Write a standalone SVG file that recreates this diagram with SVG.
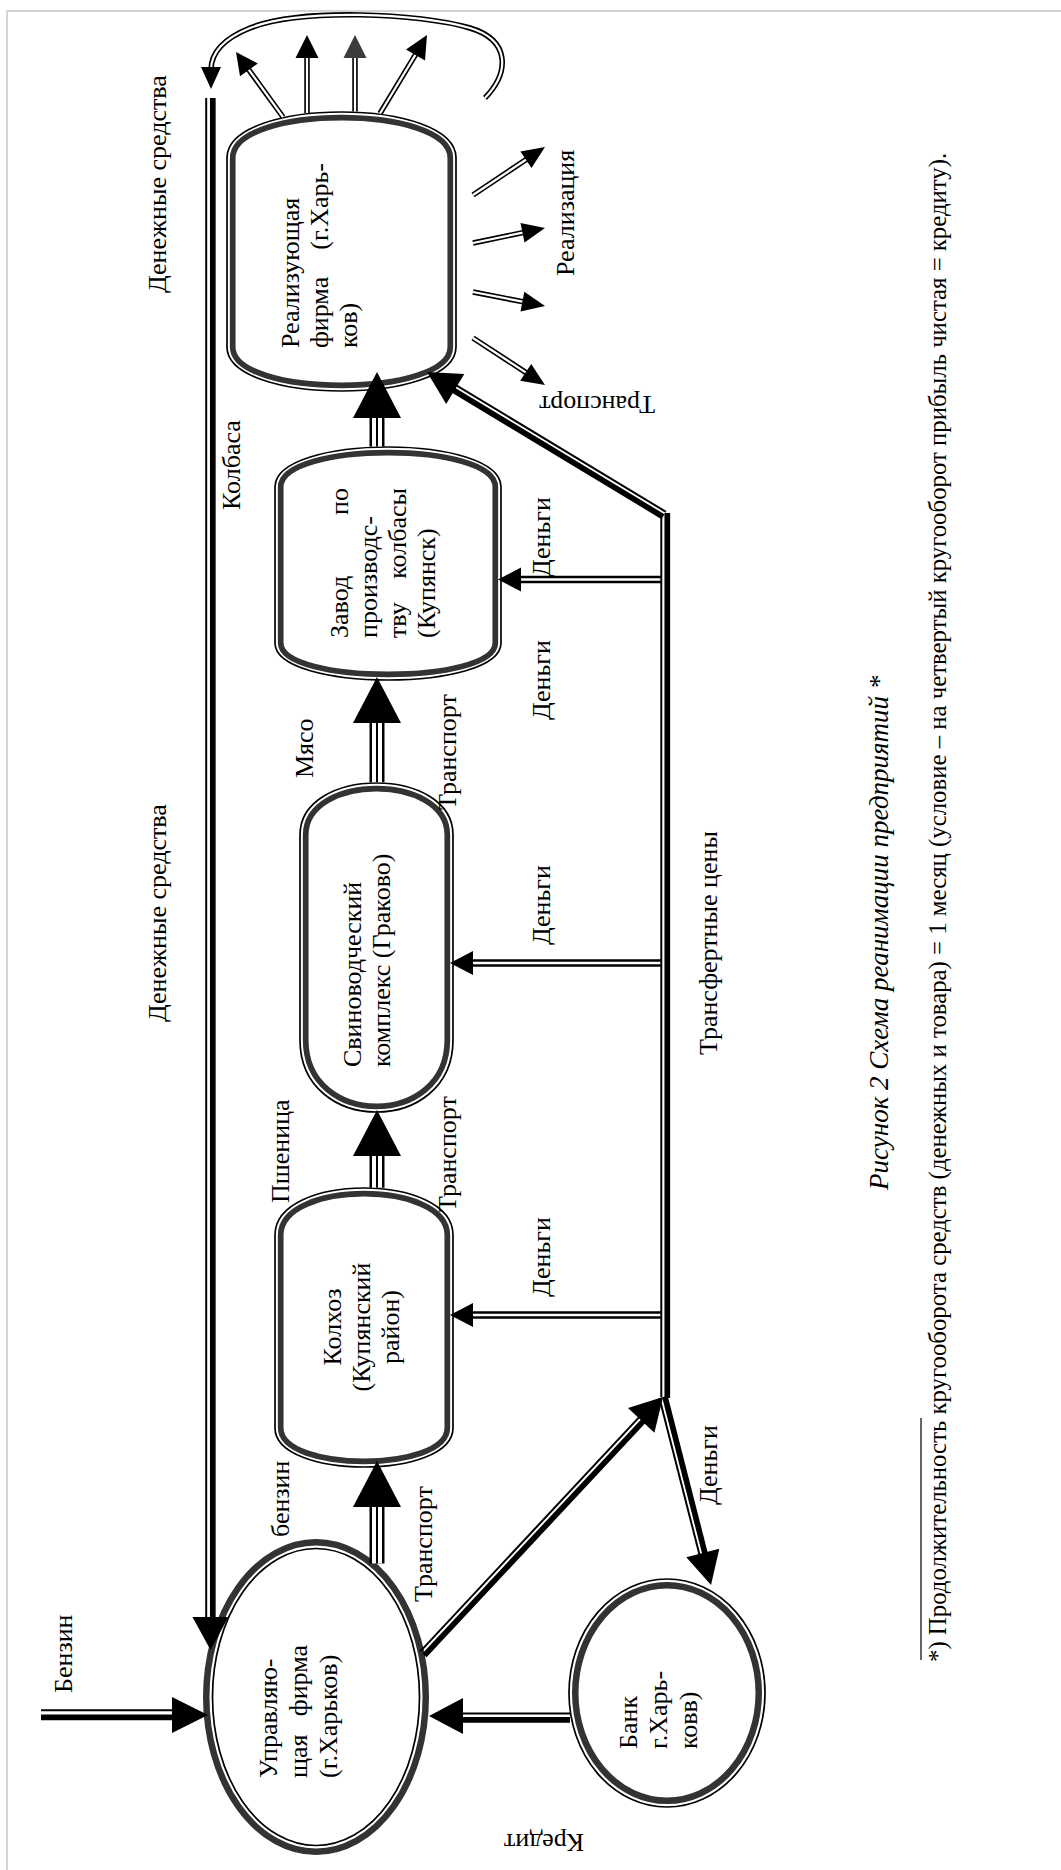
<svg xmlns="http://www.w3.org/2000/svg" width="1061" height="1870" viewBox="0 0 1061 1870">
<style>
.t{font-family:'Liberation Serif','Times New Roman',Times,serif;font-size:26px;fill:#000}
.it{font-style:italic;font-size:27px}
.fn{font-size:24.8px}
.thin{fill:none;stroke:#000;stroke-width:1.7}
.band{fill:none;stroke:#333;stroke-width:5.7}
.bg{fill:#fff;stroke:none}
.sO{fill:none;stroke:#000;stroke-width:5.5}
.sI{fill:none;stroke:#fff;stroke-width:2.2}
.dO{fill:none;stroke:#000;stroke-width:7.5}
.dI{fill:none;stroke:#fff;stroke-width:2.5}
.tO{fill:none;stroke:#000;stroke-width:15}
.tI{fill:none;stroke:#fff;stroke-width:10}
.tC{fill:none;stroke:#000;stroke-width:2}
.ln1{fill:none;stroke:#000;stroke-width:2}
.ln2{fill:none;stroke:#000;stroke-width:5.7}
.head{fill:#000;stroke:none}
.headg{fill:#3c3c3c;stroke:none}
</style>
<defs>
<path id="ta1" d="M283,117 L246.5,66.6"/>
<path id="ta2" d="M307,113 L307,55"/>
<path id="ta3" d="M355,111.5 L355,55"/>
<path id="ta4" d="M380,113.5 L417.5,51.4"/>
<path id="tcurve" d="M485,98 C510,72 510,40 470,28 C420,13 300,8 250,28 C225,38 211,52 211,70"/>
<path id="r1" d="M473,195 L529.2,157.5"/>
<path id="r2" d="M473,243 L526.4,231.9"/>
<path id="r3" d="M473,292 L526.3,302.4"/>
<path id="r4" d="M473,338 L529.1,374.6"/>
<path id="m1" d="M662,579.5 L517,579.5"/>
<path id="m2" d="M662,963 L469,963"/>
<path id="m3" d="M662,1315 L469,1315"/>
<path id="u1" d="M377,1563.5 L377,1503"/>
<path id="u2" d="M377,1187.7 L377,1152"/>
<path id="u3" d="M377,782.2 L377,719"/>
<path id="u4" d="M377,446.5 L377,414"/>
</defs>

<rect x="7" y="11" width="1070" height="1880" fill="none" stroke="#c8c8c8" stroke-width="1.5"/>

<g id="n-realiz">
<path class="bg" d="M227,158 C227,96.67 456,96.67 456,158 L456,347 C456,405.67 227,405.67 227,347 Z"/>
<path class="thin" d="M227,158 C227,96.67 456,96.67 456,158 L456,347 C456,405.67 227,405.67 227,347 Z"/>
<path class="band" d="M232.7,158 C232.7,104.27 450.3,104.27 450.3,158 L450.3,347 C450.3,398.07 232.7,398.07 232.7,347 Z"/>
<text class="t" transform="translate(299,348) rotate(-90)">Реализующая</text>
<text class="t" transform="translate(328,348) rotate(-90)">фирма</text>
<text class="t" text-anchor="end" transform="translate(328,163) rotate(-90)">(г.Харь-</text>
<text class="t" transform="translate(357,348) rotate(-90)">ков)</text>
</g>

<g id="n-zavod">
<path class="bg" d="M275,487 C275,433.67 501,433.67 501,487 L501,643 C501,692.33 275,692.33 275,643 Z"/>
<path class="thin" d="M275,487 C275,433.67 501,433.67 501,487 L501,643 C501,692.33 275,692.33 275,643 Z"/>
<path class="band" d="M280.7,487 C280.7,441.27 495.3,441.27 495.3,487 L495.3,643 C495.3,684.73 280.7,684.73 280.7,643 Z"/>
<text class="t" transform="translate(348,638) rotate(-90)">Завод</text>
<text class="t" text-anchor="end" transform="translate(348,488) rotate(-90)">по</text>
<text class="t" transform="translate(377,638) rotate(-90)">производс-</text>
<text class="t" transform="translate(406,638) rotate(-90)">тву</text>
<text class="t" text-anchor="end" transform="translate(406,488) rotate(-90)">колбасы</text>
<text class="t" transform="translate(435,638) rotate(-90)">(Купянск)</text>
</g>

<g id="n-svino">
<path class="bg" d="M300,835 C300,765.67 453,765.67 453,835 L453,1040 C453,1136 300,1136 300,1040 Z"/>
<path class="thin" d="M300,835 C300,765.67 453,765.67 453,835 L453,1040 C453,1136 300,1136 300,1040 Z"/>
<path class="band" d="M305.7,835 C305.7,773.27 447.3,773.27 447.3,835 L447.3,1040 C447.3,1128.4 305.7,1128.4 305.7,1040 Z"/>
<text class="t" transform="translate(361,1067) rotate(-90)">Свиноводческий</text>
<text class="t" transform="translate(390,1067) rotate(-90)">комплекс (Граково)</text>
</g>

<g id="n-kolhoz">
<path class="bg" d="M275,1235 C275,1172.33 453,1172.33 453,1235 L453,1428 C453,1480 275,1480 275,1428 Z"/>
<path class="thin" d="M275,1235 C275,1172.33 453,1172.33 453,1235 L453,1428 C453,1480 275,1480 275,1428 Z"/>
<path class="band" d="M280.7,1235 C280.7,1179.93 447.3,1179.93 447.3,1235 L447.3,1428 C447.3,1472.4 280.7,1472.4 280.7,1428 Z"/>
<text class="t" text-anchor="middle" transform="translate(341,1327) rotate(-90)">Колхоз</text>
<text class="t" text-anchor="middle" transform="translate(370,1327) rotate(-90)">(Купянский</text>
<text class="t" text-anchor="middle" transform="translate(399,1327) rotate(-90)">район)</text>
</g>

<g id="n-upr">
<ellipse class="bg" cx="316" cy="1697" rx="113" ry="158"/>
<ellipse cx="316" cy="1697" rx="109.75" ry="154.75" fill="none" stroke="#333" stroke-width="6.5"/>
<ellipse class="thin" cx="316" cy="1697" rx="103.5" ry="148.5" stroke-width="2"/>
<text class="t" transform="translate(277,1778) rotate(-90)">Управляю-</text>
<text class="t" transform="translate(307,1778) rotate(-90)">щая</text>
<text class="t" text-anchor="end" transform="translate(307,1645) rotate(-90)">фирма</text>
<text class="t" transform="translate(337,1778) rotate(-90)">(г.Харьков)</text>
</g>

<g id="n-bank">
<ellipse class="bg" cx="667" cy="1693" rx="99" ry="115"/>
<ellipse class="thin" cx="667" cy="1693" rx="98" ry="114" stroke-width="2"/>
<ellipse cx="667" cy="1693" rx="91.75" ry="107.75" fill="none" stroke="#333" stroke-width="6.5"/>
<text class="t" transform="translate(637,1749) rotate(-90)">Банк</text>
<text class="t" transform="translate(667,1749) rotate(-90)">г.Харь-</text>
<text class="t" transform="translate(697,1749) rotate(-90)">ковв)</text>
</g>

<g id="connectors">
<use href="#ta1" class="sO"/><use href="#ta1" class="sI"/>
<use href="#ta2" class="sO"/><use href="#ta2" class="sI"/>
<use href="#ta3" class="sO"/><use href="#ta3" class="sI"/>
<use href="#ta4" class="sO"/><use href="#ta4" class="sI"/>
<use href="#tcurve" class="sO"/><use href="#tcurve" class="sI"/>
<polygon class="head" points="236,52 257.8,63.4 240,76.3"/>
<polygon class="head" points="307,35 318.5,58 295.5,58"/>
<polygon class="headg" points="355,35 366.5,58 343.5,58"/>
<polygon class="head" points="427,35 425,60.4 406,49.4"/>
<polygon class="head" points="211,89 221,67 201,67"/>

<use href="#r1" class="sO"/><use href="#r1" class="sI"/>
<use href="#r2" class="sO"/><use href="#r2" class="sI"/>
<use href="#r3" class="sO"/><use href="#r3" class="sI"/>
<use href="#r4" class="sO"/><use href="#r4" class="sI"/>
<polygon class="head" points="545,147 531.5,168.1 520.4,151.5"/>
<polygon class="head" points="545,228 524.5,242.5 520.5,222.9"/>
<polygon class="head" points="545,306 520.5,311.4 524.3,291.8"/>
<polygon class="head" points="545,385 520.2,380.8 531.2,364"/>

<use href="#m1" class="dO"/><use href="#m1" class="dI"/>
<use href="#m2" class="dO"/><use href="#m2" class="dI"/>
<use href="#m3" class="dO"/><use href="#m3" class="dI"/>
<polygon class="head" points="498,579.5 521,567.5 521,591.5"/>
<polygon class="head" points="450,963 473,951 473,975"/>
<polygon class="head" points="450,1315 473,1303 473,1327"/>

<use href="#u1" class="tO"/><use href="#u1" class="tI"/><use href="#u1" class="tC"/>
<use href="#u2" class="tO"/><use href="#u2" class="tI"/><use href="#u2" class="tC"/>
<use href="#u3" class="tO"/><use href="#u3" class="tI"/><use href="#u3" class="tC"/>
<use href="#u4" class="tO"/><use href="#u4" class="tI"/><use href="#u4" class="tC"/>
<polygon class="head" points="377,1461 401,1507 353,1507"/>
<polygon class="head" points="377,1110 401,1156 353,1156"/>
<polygon class="head" points="377,677 401,723 353,723"/>
<polygon class="head" points="377,372 401,418 353,418"/>

<path class="ln1" d="M206.2,98 L206.2,1622"/>
<path class="ln2" d="M212.8,98 L212.8,1622"/>
<polygon class="head" points="210.5,1650 228.5,1617 192.5,1617"/>

<path class="ln1" d="M661.3,518 L661.3,1397" stroke-width="2.4"/>
<path class="ln2" d="M667.3,513 L667.3,1398" stroke-width="6"/>
<path class="ln1" d="M665.9,511.8 L453.9,383.8"/>
<path class="ln2" d="M663,516.7 L451,388.7"/>
<polygon class="head" points="427,372 464.3,374.1 446.2,404.1"/>

<path class="ln1" d="M420.3,1651.4 L640.8,1415.4"/>
<path class="ln2" d="M424.5,1655.4 L645,1419.4"/>
<polygon class="head" points="663,1397 628,1408.1 654.4,1432.7"/>

<path class="ln1" d="M659.4,1397.9 L700,1556.8"/>
<path class="ln2" d="M664.9,1396.5 L705.5,1555.4"/>
<polygon class="head" points="711,1585 686.3,1557.2 719.3,1548.8"/>

<path class="ln1" d="M41,1710.3 L176,1710.3"/>
<path class="ln2" d="M41,1717.3 L176,1717.3"/>
<polygon class="head" points="208,1715 172,1697 172,1733"/>

<path class="ln1" d="M570,1713.5 L460,1713.5"/>
<path class="ln2" d="M570,1719.8 L460,1719.8"/>
<polygon class="head" points="429,1716 463,1698 463,1734"/>
</g>

<g id="labels">
<text class="t" transform="translate(166,293) rotate(-90)">Денежные средства</text>
<text class="t" transform="translate(166,1022) rotate(-90)">Денежные средства</text>
<text class="t" transform="translate(240,510) rotate(-90)">Колбаса</text>
<text class="t" transform="translate(313,778) rotate(-90)">Мясо</text>
<text class="t" transform="translate(456,810) rotate(-90)">Транспорт</text>
<text class="t" transform="translate(289,1203) rotate(-90)">Пшеница</text>
<text class="t" transform="translate(456,1212) rotate(-90)">Транспорт</text>
<text class="t" transform="translate(289,1537) rotate(-90)">бензин</text>
<text class="t" transform="translate(432,1602) rotate(-90)">Транспорт</text>
<text class="t" transform="translate(72,1693) rotate(-90)">Бензин</text>
<text class="t" transform="translate(550,577) rotate(-90)">Деньги</text>
<text class="t" transform="translate(550,720) rotate(-90)">Деньги</text>
<text class="t" transform="translate(550,945) rotate(-90)">Деньги</text>
<text class="t" transform="translate(550,1297) rotate(-90)">Деньги</text>
<text class="t" transform="translate(717,1505) rotate(-90)">Деньги</text>
<text class="t" transform="translate(717,1055) rotate(-90)">Трансфертные цены</text>
<text class="t" transform="translate(574,276) rotate(-90)">Реализация</text>
<text class="t" transform="translate(655,396) rotate(180)">Транспорт</text>
<text class="t" transform="translate(584,1834) rotate(180)">Кредит</text>
<text class="t it" transform="translate(888,1190) rotate(-90)">Рисунок 2 Схема реанимации предприятий *</text>
<path d="M921,1418 L921,1660" fill="none" stroke="#000" stroke-width="1.2"/>
<text class="t fn" transform="translate(946,1662) rotate(-90)">*) Продолжительность кругооборота средств (денежных и товара) = 1 месяц (условие – на четвертый кругооборот прибыль чистая = кредиту).</text>
</g>
</svg>
